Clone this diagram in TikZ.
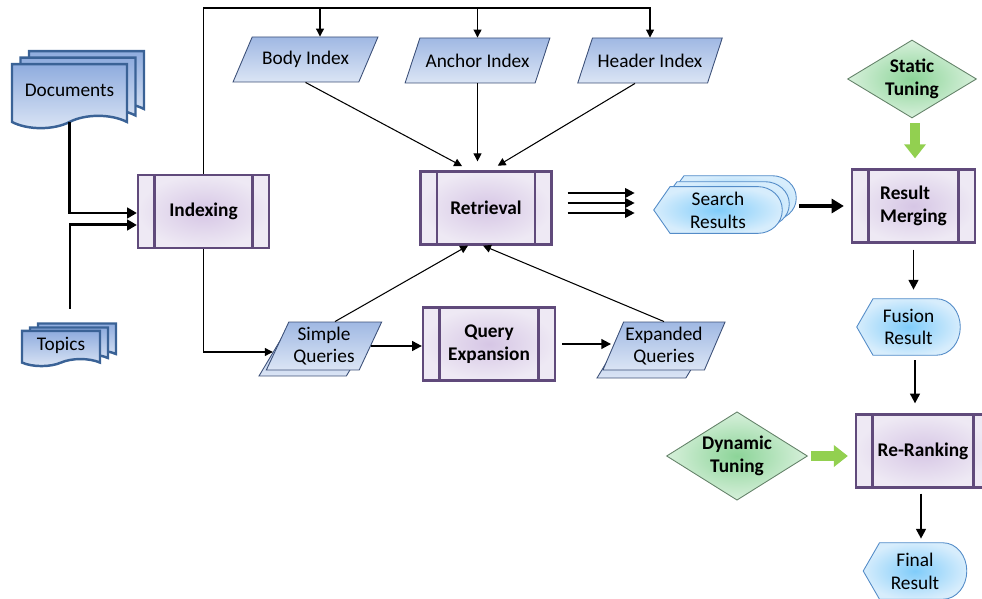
\documentclass[tikz,border=0pt]{standalone}
\usepackage{fontspec}
\setmainfont{Carlito}
\usetikzlibrary{shapes.geometric, shapes.symbols, arrows.meta, positioning, calc}
\definecolor{cProc}{RGB}{96,74,123}
\definecolor{cProcIn}{RGB}{214,198,229}
\definecolor{cProcOut}{RGB}{238,233,244}
\definecolor{cDocLine}{RGB}{58,98,150}
\definecolor{cDocTop}{RGB}{143,172,222}
\definecolor{cDocBot}{RGB}{219,229,245}
\definecolor{cIdxLine}{RGB}{60,80,120}
\definecolor{cCyanIn}{RGB}{128,204,250}
\definecolor{cCyanOut}{RGB}{215,237,252}
\definecolor{cCyanLine}{RGB}{84,140,200}
\definecolor{cGreenIn}{RGB}{140,212,152}
\definecolor{cGreenOut}{RGB}{215,240,219}
\definecolor{cGreenLine}{RGB}{100,130,105}
\definecolor{cArrowGreen}{RGB}{146,208,80}
\newcommand{\labfont}{\fontsize{11}{13}\selectfont}
\tikzset{
	procbox/.style={rectangle, draw=cProc, line width=1.3pt, inner color=cProcIn, outer color=cProcOut, minimum width=2.62cm, minimum height=1.46cm, align=center, font=\labfont\bfseries,
		path picture={\draw[cProc, line width=1.3pt]
			([xshift=0.33cm]path picture bounding box.north west) -- ([xshift=0.33cm]path picture bounding box.south west)
			([xshift=-0.33cm]path picture bounding box.north east) -- ([xshift=-0.33cm]path picture bounding box.south east);}},
	docbox/.style={tape, tape bend top=none, tape bend height=7pt, draw=cDocLine, line width=1.4pt, top color=cDocTop, bottom color=cDocBot, minimum width=2.3cm, minimum height=1.28cm},
	idxbox/.style={trapezium, trapezium left angle=51, trapezium right angle=129, trapezium stretches=true, draw=cIdxLine, line width=0.5pt, top color=cDocTop!85, bottom color=cDocBot, minimum width=2.9cm, minimum height=0.9cm, inner sep=1pt},
	qrybox/.style={idxbox, trapezium left angle=64, trapezium right angle=116, minimum width=2.32cm, minimum height=0.96cm, align=center},
	dispbox/.style={rectangle, minimum width=2.1cm, minimum height=1.16cm, align=center,
		path picture={\path[draw=cCyanLine, line width=0.5pt, inner color=cCyanIn, outer color=cCyanOut]
			([xshift=0.4pt]path picture bounding box.west)
			-- ([shift={(0.34cm,-0.4pt)}]path picture bounding box.north west)
			-- ([shift={(-0.5cm,-0.4pt)}]path picture bounding box.north east)
			to[out=0, in=90] ([xshift=-0.4pt]path picture bounding box.east)
			to[out=-90, in=0] ([shift={(-0.5cm,0.4pt)}]path picture bounding box.south east)
			-- ([shift={(0.34cm,0.4pt)}]path picture bounding box.south west) -- cycle;}},
	tunebox/.style={diamond, draw=cGreenLine, line width=0.5pt, inner color=cGreenIn, outer color=cGreenOut, align=center, font=\labfont\bfseries, inner sep=-3pt},
	arr/.style={-{Triangle[length=4.5pt, width=4.5pt]}, line width=0.6pt},
	marr/.style={-{Triangle[length=5.5pt, width=5.5pt]}, line width=1.1pt},
	tarr/.style={-{Triangle[length=5.5pt, width=6pt]}, line width=1.7pt},
	garr/.style={-{Triangle[length=8pt, width=12pt]}, line width=6pt, cArrowGreen},
}
\begin{document}
\begin{tikzpicture}[x=0.02cm, y=0.02cm, font=\labfont]
\useasboundingbox (0,0) rectangle (982,598);

% collections
\node[docbox] (docs3) at (86.5,521) {};
\node[docbox] (docs2) at (78,514.5) {};
\node[docbox] (docs) at (69.5,508) {Documents};
\node[docbox, minimum width=1.56cm, minimum height=0.68cm, tape bend height=4pt] (tpc3) at (77,261) {};
\node[docbox, minimum width=1.56cm, minimum height=0.68cm, tape bend height=4pt] (tpc2) at (69,257) {};
\node[docbox, minimum width=1.56cm, minimum height=0.68cm, tape bend height=4pt] (tpc) at (61,253) {Topics};

% processes
\node[procbox] (idx) at (203.5,386.5) {Indexing};
\node[procbox] (retr) at (486,390) {Retrieval};
\node[procbox, minimum width=2.64cm] (qe) at (489,254) {Query\\Expansion};
\node[procbox, minimum width=2.46cm, align=left] (rm) at (913.5,392) {Result\\Merging};
\node[procbox, minimum width=2.68cm] (rr) at (923,147) {Re-Ranking};

% indexes
\node[idxbox] (body) at (305.5,538.5) {Body Index};
\node[idxbox] (anch) at (477.5,537.5) {Anchor Index};
\node[idxbox] (hdr) at (650,537.5) {Header Index};

% queries
\node[qrybox] (sqb) at (317,246) {};
\node[qrybox] (sq) at (324,252) {Simple\\Queries};
\node[qrybox, minimum width=2.36cm] (eqb) at (656,244) {};
\node[qrybox, minimum width=2.36cm] (eq) at (664,252) {Expanded\\Queries};

% results
\node[dispbox, minimum width=2.6cm, minimum height=0.92cm] (sr3) at (732,400) {};
\node[dispbox, minimum width=2.6cm, minimum height=0.92cm] (sr2) at (725,394) {};
\node[dispbox, minimum width=2.6cm, minimum height=0.92cm] (sr) at (718,388) {Search\\Results};
\node[dispbox] (fr) at (908.5,271) {Fusion\\Result};
\node[dispbox] (fin) at (915,27) {Final\\Result};

% tuning
\node[tunebox, minimum width=2.58cm, minimum height=1.56cm] (st) at (912,519) {Static\\Tuning};
\node[tunebox, minimum width=2.82cm, minimum height=1.64cm] (dyn) at (737,142) {Dynamic\\Tuning};

% inputs to indexing
\draw[tarr, shorten <=0.1cm] (docs.south) |- ([yshift=-0.03cm]idx.west);
\draw[tarr, shorten <=0.42cm] ([xshift=0.18cm]tpc.north) |- ([yshift=-0.27cm]idx.west);

% index bus
\coordinate (bus) at (203.5,590);
\draw[arr] (idx.north) -- (bus) -| (hdr.north);
\draw[arr] ([xshift=0.29cm]body.north |- bus) -- ([xshift=0.29cm]body.north);
\draw[arr] (anch.north |- bus) -- (anch.north);

% indexes to retrieval
\draw[arr, shorten >=0.18cm] (body.south) -- ([xshift=-0.32cm]retr.north);
\draw[arr, shorten >=0.18cm] (anch.south) -- (anch.south |- retr.north);
\draw[arr, shorten >=0.18cm] ([xshift=-0.3cm]hdr.south) -- ([xshift=0.08cm]retr.north);

% query path
\draw[arr] (idx.south) |- (sqb.west);
\draw[marr] (sq.east) -- (sq.east -| qe.west);
\draw[marr, shorten <=0.12cm] (qe.east) -- (qe.east -| eqb.west);
\draw[arr] ([xshift=0.22cm]sq.north) -- ([xshift=-0.36cm]retr.south);
\draw[arr] (eq.north) -- ([xshift=-0.06cm]retr.south);

% retrieval output
\foreach \s in {0.3,0.1,-0.1}
	\draw[marr, shorten <=0.3cm, shorten >=0.36cm] ([yshift=\s cm]retr.east) -- ([yshift=\s cm]retr.east -| sr.west);
\draw[-{Triangle[length=7pt, width=8pt]}, line width=2.3pt, shorten >=0.14cm] ([xshift=-1.04cm]rm.west) -- (rm.west);

% fusion chain
\draw[garr, shorten <=0.1cm, shorten >=0.2cm] ([xshift=0.06cm]st.south) -- ([xshift=0.06cm]st.south |- rm.north);
\draw[marr, shorten <=0.12cm, shorten >=0.16cm] (rm.south) -- (rm.south |- fr.north);
\draw[marr, shorten <=0.08cm, shorten >=0.2cm] ([xshift=0.13cm]fr.south) -- ([xshift=0.13cm]fr.south |- rr.north);
\draw[garr, shorten <=0.06cm, shorten >=0.14cm] (dyn.east) -- (dyn.east -| rr.west);
\draw[marr, shorten <=0.1cm, shorten >=0.06cm] ([xshift=-0.04cm]rr.south) -- ([xshift=-0.04cm]rr.south |- fin.north);
\end{tikzpicture}
\end{document}
